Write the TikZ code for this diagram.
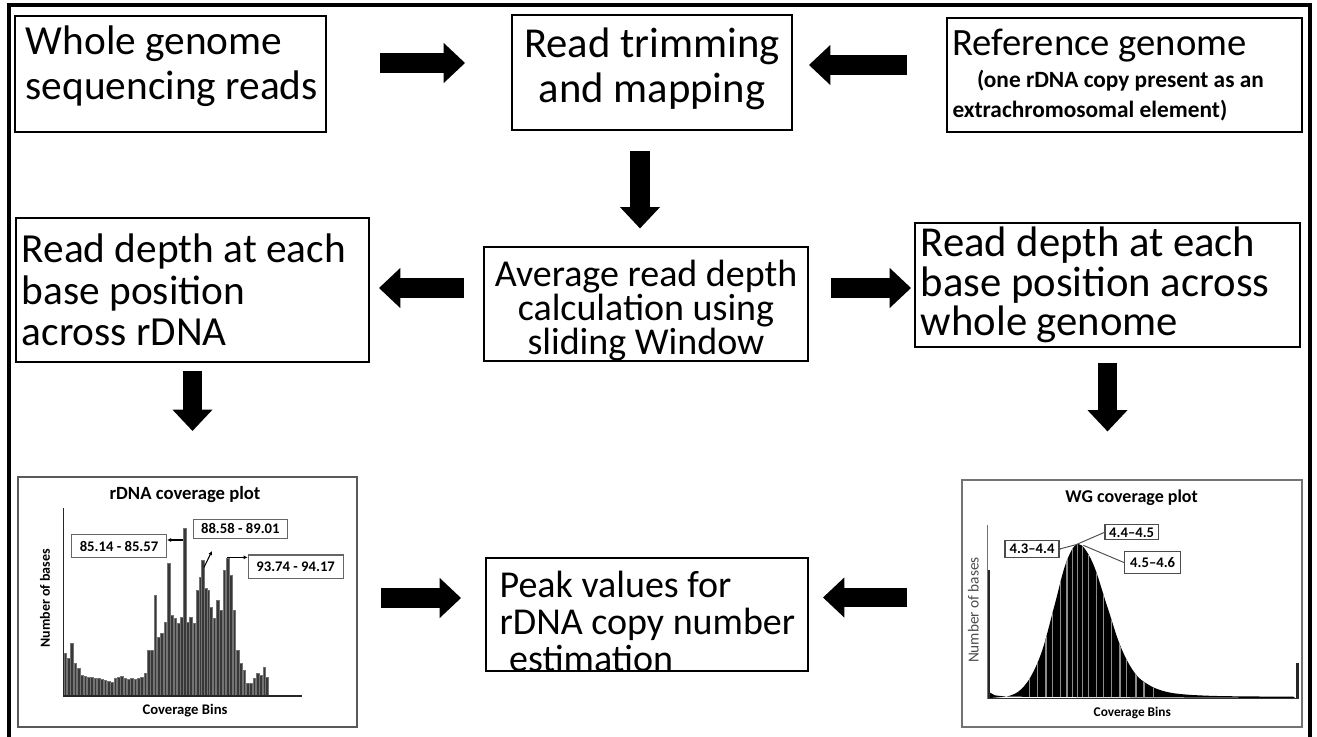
\documentclass[tikz,border=0pt]{standalone}
\usepackage{fontspec}
\setmainfont{Carlito}
\usetikzlibrary{arrows.meta}
\begin{document}
\begin{tikzpicture}[x=0.75pt,y=-0.75pt,
  box/.style={draw=black, line width=1.4pt, inner xsep=4pt, inner ysep=0pt},
  blk/.style={line width=14.5pt, black, -{Triangle[length=16pt,width=29pt]}},
  plotframe/.style={draw=black!65, line width=1.5pt, inner sep=0pt},
  lbl/.style={draw=black!60, line width=0.8pt, inner sep=0pt, font=\bfseries\fontsize{11}{11}\selectfont},
  thinarr/.style={line width=0.8pt, -{Latex[length=3pt,width=3pt]}},
  bar/.style={fill=black!78, draw=black!55, line width=0.2pt}
]
\useasboundingbox (0,0) rectangle (1317,736);
\fill[white] (0,0) rectangle (1317,736);
% outer frame
\draw[line width=2.4pt] (9,760) -- (9,5) -- (1310,5) -- (1310,760);

% boxes
\node[box, minimum width=233.25pt, minimum height=87pt, text width=223pt, align=flush left,
  font=\fontsize{31}{34}\selectfont] (A) at (170.5,74) {\hspace*{3pt}Whole genome\\\hspace*{3pt}sequencing reads\rule[-17pt]{0pt}{0pt}};
\node[box, minimum width=210pt, minimum height=86.25pt, text width=202pt, align=flush center,
  font=\fontsize{32}{34}\selectfont] (B) at (652,72.5) {Read trimming\\and mapping\rule[-11pt]{0pt}{0pt}};
\node[box, minimum width=266.25pt, minimum height=85.5pt, text width=258pt, align=flush left,
  font=\fontsize{29}{23}\selectfont] (C) at (1124.5,75)
  {Reference genome\\[1pt]{\bfseries\fontsize{17.5}{23}\selectfont\hspace*{1.05em}(one rDNA copy present as an\\extrachromosomal element)}};
\node[box, minimum width=264.75pt, minimum height=108pt, text width=256pt, align=flush left,
  font=\fontsize{31}{31}\selectfont] (D) at (192.5,290) {Read depth at each\\base position\\across rDNA};
\node[box, minimum width=243pt, minimum height=84pt, text width=235pt, align=flush center,
  font=\fontsize{28.5}{25.5}\selectfont] (E) at (646,304) {\rule{0pt}{29pt}Average read depth\\calculation using\\sliding Window};
\node[box, minimum width=288.75pt, minimum height=93pt, text width=280pt, align=flush left,
  font=\fontsize{32}{29.5}\selectfont] (F) at (1107.5,285) {Read depth at each\\base position across\\whole genome};
\node[box, minimum width=241.5pt, minimum height=78.75pt, text width=233pt, align=flush left,
  font=\fontsize{28.5}{27.5}\selectfont] (G) at (647,614.5) {\rule{0pt}{30pt}\hspace*{6pt}Peak values for\\\hspace*{6pt}rDNA copy number\\\hspace*{6pt}\hspace*{0.25em}estimation};

% plot frames
\node[plotframe, minimum width=254.25pt, minimum height=187.5pt] (P1) at (187.5,602) {};
\node[draw=black!55, line width=0.8pt, inner sep=0pt, minimum width=255pt, minimum height=185.25pt] (P2) at (1132,603.5) {};

% block arrows
\draw[blk, shorten <=39.75pt, shorten >=34.5pt] ([yshift=8.25pt]A.east) -- ([yshift=8.25pt]A.east -| B.west);
\draw[blk, shorten <=29.25pt, shorten >=12pt] ([yshift=7.5pt]C.west) -- ([yshift=7.5pt]C.west -| B.east);
\draw[blk, shorten <=15pt, shorten >=13.5pt] ([xshift=-9pt]B.south) -- ([xshift=-9pt]B.south |- E.north);
\draw[blk, shorten <=14.25pt, shorten >=6.75pt] ([yshift=12pt]E.west) -- ([yshift=12pt]E.west -| D.east);
\draw[blk, shorten <=16.5pt, shorten >=2.25pt] ([yshift=12pt]E.east) -- ([yshift=12pt]E.east -| F.west);
\draw[blk, shorten <=6pt, shorten >=33.75pt] (D.south) -- (D.south |- P1.north);
\draw[blk, shorten <=11.25pt, shorten >=36pt] (F.south) -- (F.south |- P2.north);
\draw[blk, shorten <=17.25pt, shorten >=18pt] ([yshift=3pt]P1.east) -- ([yshift=3pt]P1.east -| G.west);
\draw[blk, shorten <=40.5pt, shorten >=10.5pt] ([yshift=4.5pt]P2.west) -- ([yshift=4.5pt]P2.west -| G.east);

% ---------- rDNA coverage plot ----------
\begin{scope}[shift={(0,470)}, x=0.25pt, y=-0.25pt]
  \foreach \bx/\by in {195/550,205/565,215/520,225/580,235/595,245/615,255/618,265/620,275/622,285/625,
    295/625,305/628,315/630,325/632,335/635,345/625,355/620,365/618,375/625,385/628,395/625,405/628,
    415/625,425/620,435/610,445/540,455/540,465/375,475/500,485/490,495/455,505/280,515/435,525/445,
    535/460,545/440,553/175,562/455,572/440,582/460,592/360,600/320,608/270,616/355,624/360,632/410,
    642/445,652/390,662/420,672/300,682/265,692/315,702/420,712/540,722/580,732/600,742/640,752/640,
    762/625,772/610,782/615,792/590,800/620}
    \fill[bar] (\bx-4,676) rectangle (\bx+4,\by);
  \draw[line width=0.9pt, black!85] (190,115) -- (190,678) -- (905,678);
  \node[font=\bfseries\fontsize{14}{14}\selectfont] (t1) at (555,75) {rDNA coverage plot};
  \node[rotate=90, font=\bfseries\fontsize{10.5}{10.5}\selectfont] (y1) at (135,385) {Number of bases};
  \node[font=\bfseries\fontsize{11}{11}\selectfont] (x1) at (555,722) {Coverage Bins};
  \node[lbl, fill=white, minimum width=71.25pt, minimum height=16.75pt] (l1) at (357,228) {85.14 - 85.57};
  \node[lbl, fill=white, minimum width=70.5pt, minimum height=14.25pt] (l2) at (721,176) {88.58 - 89.01};
  \node[lbl, fill=white, minimum width=71.25pt, minimum height=17.5pt] (l3) at (887,290) {93.74 - 94.17};
  \coordinate (p1) at (550,210);
  \coordinate (p2) at (612,292);
  \coordinate (p3) at (682,262);
  \draw[thinarr] (p1) -- (p1 -| l1.east);
  \draw[thinarr] (p2) -- (636,243);
  \draw[thinarr] (p3) -- (p3 -| l3.west);
\end{scope}

% ---------- WG coverage plot ----------
\begin{scope}[shift={(940,470)}, x=0.25pt, y=-0.25pt]
  \def\bell{(150,684) -- (150,668) -- (165,676) -- (199,680) plot[smooth, tension=0.6] coordinates
     {(199,680) (235,665) (271,622) (307,540) (343,408) (379,276) (415,222) (457,276) (500,404)
      (542,530) (585,610) (627,645) (670,663) (720,672) (800,677) (900,679) (1060,680)}
     -- (1065,684) -- cycle}
  \fill[black] \bell;
  \begin{scope}
    \clip \bell;
    \foreach \sx in {268,292,318,338,362,381,398,412,428,446,470,490,515,540,560,588,612,640}
      \draw[black!45, line width=0.9pt] (\sx,150) -- (\sx,690);
  \end{scope}
  \fill[black!85] (140,300) rectangle (150,686);
  \fill[black!85] (1068,580) rectangle (1078,686);
  \draw[black!55, line width=0.6pt] (143,165) -- (143,688);
  \draw[black!80, line width=0.9pt] (143,686) -- (1078,686);
  \node[font=\bfseries\fontsize{13.5}{13.5}\selectfont] (t2) at (575,82) {WG coverage plot};
  \node[rotate=90, text=black!70, font=\fontsize{11.5}{11.5}\selectfont] (y2) at (100,420) {Number of bases};
  \node[font=\bfseries\fontsize{10}{10}\selectfont] (x2) at (577,730) {Coverage Bins};
  \node[lbl, draw=black!70, fill=white, minimum width=40.5pt, minimum height=12.5pt] (L1) at (276,237) {4.3--4.4};
  \node[lbl, draw=black!70, fill=white, minimum width=40pt, minimum height=11.25pt] (L2) at (575,187) {4.4--4.5};
  \node[lbl, draw=black!70, fill=white, minimum width=41.75pt, minimum height=16.75pt] (L3) at (638,278) {4.5--4.6};
  \coordinate (q1) at (408,224);
  \coordinate (q2) at (430,226);
  \draw[black!70, line width=0.7pt] (L1.east) -- (q1);
  \fill[black!70] (L1.east) circle (4);
  \draw[black!70, line width=0.7pt] (q1) -- (L2.west);
  \draw[black!70, line width=0.7pt] (q2) -- (L3.west);
\end{scope}
\end{tikzpicture}
\end{document}
